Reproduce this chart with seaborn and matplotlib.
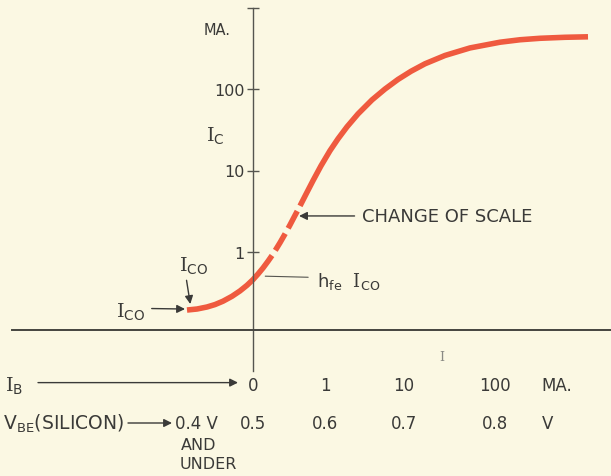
import numpy as np
import pandas as pd
import matplotlib
matplotlib.use("Agg")
import matplotlib.pyplot as plt
import seaborn as sns

# Data
# transfer curve: base-emitter voltage (V) vs collector current (mA)
vbe = [0.4000, 0.4152, 0.4303, 0.4424, 0.4545, 0.4682, 0.4803, 0.4909, 0.5000,
       0.5069, 0.5139, 0.5208, 0.5264,
       0.5319, 0.5375, 0.5444, 0.5514, 0.5583, 0.5653,
       0.5736, 0.5833, 0.5944, 0.6063, 0.6165, 0.6279, 0.6418, 0.6595, 0.6760,
       0.6924, 0.7077, 0.7231, 0.7451, 0.7725, 0.8055, 0.8275, 0.8495, 0.8769,
       0.9022]
ic = [0.256, 0.269, 0.295, 0.326, 0.369, 0.432, 0.501, 0.573, 0.646,
      0.717, 0.795, 0.881, 0.955,
      1.08, 1.30, 1.66, 2.15, 2.81, 3.68,
      5.12, 7.50, 11.4, 17.5, 24.5, 34.4, 49.5, 73.5, 100,
      131, 165, 204, 258, 319, 375, 402, 419, 431,
      437]
part = ["low"] * 13 + ["break"] * 6 + ["high"] * 19

ic_ticks = [1, 10, 100, 1000]
ic_tick_labels = ["1", "10", "100", ""]
vbe_ticks = [0.5, 0.6, 0.7, 0.8]
vbe_labels = ["0.5", "0.6", "0.7", "0.8"]
ib_labels = ["0", "1", "10", "100"]

ico = (vbe[0], ic[0])          # leakage current point
hfe_ico = (0.517, 0.69)        # current where curve crosses the Ic axis
scale_break = (0.564, 2.77)    # where the scale changes

df = pd.DataFrame({"VBE": vbe, "IC": ic, "part": part})
# neighbouring segments share their end rows
low = df.iloc[0:13]
mid = df.iloc[12:19]
high = df.iloc[18:]

# Scales
# Ic: linear below 1 mA, log above (the "change of scale")
K = 78 / 81.5


def ic_fwd(v):
    v = np.asarray(v, dtype=float)
    with np.errstate(all="ignore"):
        return np.where(v <= 1, K * v, K + np.log10(np.maximum(v, 1)))


def ic_inv(t):
    t = np.asarray(t, dtype=float)
    with np.errstate(all="ignore"):
        return np.where(t <= K, t / K, 10 ** (np.minimum(t, 12) - K))


# Vbe: hand drawn spacing between the voltage labels
knot_v = [0.4, 0.5, 0.6, 0.7, 0.8]
knot_p = [187, 253, 325, 404, 495]
sl = (knot_p[1] - knot_p[0]) / (knot_v[1] - knot_v[0])
sr = (knot_p[-1] - knot_p[-2]) / (knot_v[-1] - knot_v[-2])


def v_fwd(v):
    v = np.asarray(v, dtype=float)
    out = np.interp(v, knot_v, knot_p)
    out = out + np.where(v < knot_v[0], (v - knot_v[0]) * sl, 0)
    out = out + np.where(v > knot_v[-1], (v - knot_v[-1]) * sr, 0)
    return out


def v_inv(p):
    p = np.asarray(p, dtype=float)
    out = np.interp(p, knot_p, knot_v)
    out = out + np.where(p < knot_p[0], (p - knot_p[0]) / sl, 0)
    out = out + np.where(p > knot_p[-1], (p - knot_p[-1]) / sr, 0)
    return out


# Style
sns.set_theme(style="white")
plt.rcParams["font.family"] = ["DejaVu Sans"]
plt.rcParams["mathtext.fontset"] = "custom"
plt.rcParams["mathtext.rm"] = "DejaVu Serif"
plt.rcParams["mathtext.sf"] = "DejaVu Sans"

BG = "#fbf8e3"
RED = "#ef5a3f"
INK = "#3a3a38"
AXC = "#55554f"

fig = plt.figure(figsize=(6.11, 4.77), dpi=100, facecolor=BG)
ax = fig.add_axes([0, 0, 1, 1], facecolor=BG)
ax.set_xscale("function", functions=(v_fwd, v_inv))
ax.set_yscale("function", functions=(ic_fwd, ic_inv))
ax.set_xlim(v_inv(0), v_inv(611))
ax.set_ylim(ic_inv(-146 / 81.5), ic_inv(331 / 81.5))

# Curve
for seg in [low, mid, high]:
    sns.lineplot(data=seg, x="VBE", y="IC", sort=False, estimator=None,
                 color=RED, linewidth=4.0, ax=ax)
for i, line in enumerate(ax.lines):
    line.set_solid_capstyle("butt")
    line.set_dash_capstyle("butt")
    line.set_solid_joinstyle("round")
    if i == 1:
        line.set_linestyle((3.5, (3.5, 1.1)))

# Axes lines
for s in ["top", "right"]:
    ax.spines[s].set_visible(False)
ax.spines["left"].set_position(("data", 0.5))
ax.spines["bottom"].set_position(("data", 0))
ax.spines["left"].set_bounds(-0.53, 1000)
ax.spines["bottom"].set_bounds(v_inv(12), v_inv(611))
ax.spines["left"].set_color(AXC)
ax.spines["left"].set_linewidth(1.0)
ax.spines["bottom"].set_color("#45453f")
ax.spines["bottom"].set_linewidth(1.4)

ax.set_yticks(ic_ticks)
ax.set_yticklabels(ic_tick_labels)
ax.yaxis.set_minor_locator(matplotlib.ticker.NullLocator())
ax.xaxis.set_minor_locator(matplotlib.ticker.NullLocator())
ax.tick_params(axis="y", direction="inout", length=8, width=1.0, color=AXC,
               labelsize=11.5, labelcolor=INK, pad=2, left=True)
ax.set_xticks([])
ax.set_xlabel("")
ax.set_ylabel("")

# Axis titles
ax.text(0.355, 0.937, "MA.", transform=ax.transAxes, ha="center", va="center",
        fontsize=10.5, color=INK)
ax.text(0.352, 0.715, r"$\mathrm{I}_{\mathsf{C}}$", transform=ax.transAxes,
        ha="center", va="center", fontsize=14, color=INK)

# Annotations
arrow = dict(arrowstyle="-|>", color=INK, lw=1.0, mutation_scale=12,
             shrinkA=3, shrinkB=0)
ax.annotate("CHANGE OF SCALE", xy=scale_break, xytext=(362 / 611, 1 - 217 / 477),
            textcoords="axes fraction", ha="left", va="center",
            fontsize=13, color=INK, arrowprops=arrow)
ax.annotate(r"$\mathsf{h}_{\mathsf{fe}}\ \ \mathrm{I}_{\mathsf{CO}}$",
            xy=hfe_ico, xytext=(317 / 611, 1 - 281 / 477),
            textcoords="axes fraction", ha="left", va="center",
            fontsize=13, color=INK,
            arrowprops=dict(arrowstyle="-", color=AXC, lw=0.8,
                            shrinkA=4, shrinkB=0, relpos=(0, 0.62)))
ax.annotate(r"$\mathrm{I}_{\mathsf{CO}}$", xy=(ico[0] + 0.005, ic[0] * 1.3),
            xytext=(194 / 611, 1 - 266 / 477), textcoords="axes fraction",
            ha="center", va="center", fontsize=14, color=INK,
            arrowprops=dict(arrow, relpos=(0.22, 0), shrinkA=1))
ax.annotate(r"$\mathrm{I}_{\mathsf{CO}}$", xy=(ico[0] - 0.003, ic[0] * 1.05),
            xytext=(131 / 611, 1 - 312 / 477), textcoords="axes fraction",
            ha="center", va="center", fontsize=14, color=INK,
            arrowprops=dict(arrow, relpos=(1, 0.62), shrinkA=2))

# stray mark on the scan
ax.text(442 / 611, 1 - 358 / 477, "I", transform=ax.transAxes, ha="center",
        va="center", fontsize=9, color="#8a8a84", family="DejaVu Serif")

# Bottom scales
xt = ax.get_xaxis_transform()
row_ib = 1 - 386 / 477
row_v = 1 - 424 / 477
for x, lab in zip(vbe_ticks, ib_labels):
    ax.text(x, row_ib, lab, transform=xt, ha="center", va="center",
            fontsize=12, color=INK)
for x, lab in zip(vbe_ticks, vbe_labels):
    ax.text(x, row_v, lab, transform=xt, ha="center", va="center",
            fontsize=12, color=INK)
ax.text(0.8505, row_ib, "MA.", transform=xt, ha="left", va="center",
        fontsize=12, color=INK)
ax.text(0.852, row_v, "V", transform=xt, ha="left", va="center",
        fontsize=12, color=INK)
ax.annotate("0.4 V", xy=(0.4, row_v), xycoords=xt, xytext=(7, 0),
            textcoords="offset points", ha="center", va="center",
            fontsize=12, color=INK)
ax.text(181 / 611, 1 - 446 / 477, "AND", transform=ax.transAxes, ha="left",
        va="center", fontsize=11.5, color=INK)
ax.text(180 / 611, 1 - 465 / 477, "UNDER", transform=ax.transAxes, ha="left",
        va="center", fontsize=11.5, color=INK)
ax.text(0.008, row_ib, r"$\mathrm{I}_{\mathsf{B}}$", transform=ax.transAxes,
        ha="left", va="center", fontsize=14, color=INK)
ax.text(0.005, row_v, r"$\mathsf{V}_{\mathsf{BE}}$(SILICON)", transform=ax.transAxes,
        ha="left", va="center", fontsize=13.5, color=INK)
ax.annotate("", xy=(238 / 611, row_ib + 0.005), xytext=(38 / 611, row_ib + 0.005),
            xycoords="axes fraction", arrowprops=dict(arrow, shrinkA=0))
ax.annotate("", xy=(172 / 611, row_v), xytext=(128 / 611, row_v),
            xycoords="axes fraction", arrowprops=dict(arrow, shrinkA=0))

fig.savefig("out.png", dpi=100, facecolor=BG)
